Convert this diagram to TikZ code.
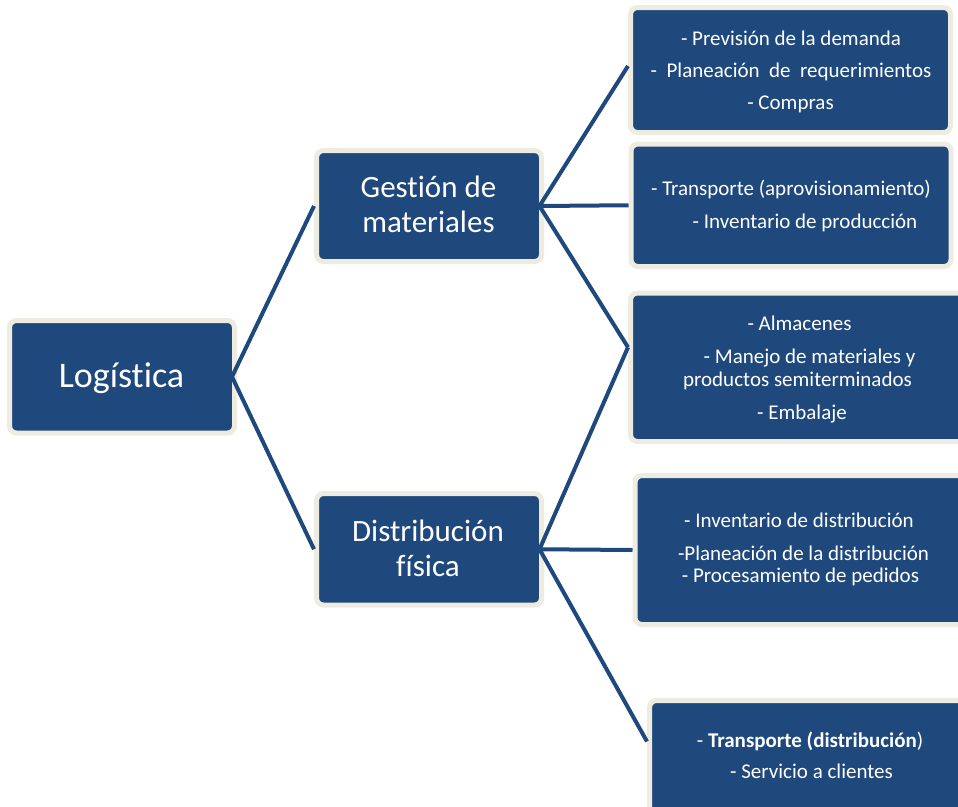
\documentclass[tikz,border=0pt]{standalone}
\usepackage{fontspec}
\setmainfont[Ligatures=NoCommon]{Carlito}
\definecolor{boxblue}{HTML}{1F497D}
\definecolor{boxcream}{HTML}{EEECE1}
\begin{document}
\begin{tikzpicture}[x=1pt,y=-1pt,
  box/.style={fill=boxblue, draw=boxcream, line width=5pt, rounded corners=7pt, inner sep=0pt, outer sep=0pt},
  leaf/.style={anchor=base, text=white, font=\fontsize{21}{25}\selectfont, inner sep=0pt},
  midlbl/.style={anchor=base, text=white, font=\fontsize{31}{37}\selectfont, inner sep=0pt},
  rootlbl/.style={anchor=base, text=white, font=\fontsize{36}{43}\selectfont, inner sep=0pt},
  link/.style={draw=boxblue, line width=4pt}]
\useasboundingbox (0,0) rectangle (958,806);
\clip (0,0) rectangle (958,806);
\fill[white] (0,0) rectangle (958,806);
% boxes
\node[box, minimum width=225pt, minimum height=112.5pt] (log) at (122,376.75) {};
\node[box, minimum width=225pt, minimum height=111pt] (gest) at (429,206) {};
\node[box, minimum width=225pt, minimum height=111.5pt] (dist) at (429,549.25) {};
\node[box, minimum width=320pt, minimum height=125pt] (b1) at (790.5,70) {};
\node[box, minimum width=320pt, minimum height=122.5pt] (b2) at (791,205.25) {};
\node[box, minimum width=336pt, minimum height=148.5pt] (b3) at (798.5,367.25) {};
\node[box, minimum width=332pt, minimum height=149pt] (b4) at (801,550) {};
\node[box, minimum width=330pt, minimum height=150pt] (b5) at (814.5,775.5) {};
% connector end points
\coordinate (ls) at ([xshift=-2.5pt]log.east);
\coordinate (gs) at ([xshift=-2pt]gest.east);
\coordinate (ds) at ([xshift=-2pt]dist.east);
\coordinate (t1) at ([xshift=-2.5pt,yshift=4pt]b1.west);
\coordinate (t3) at ([xshift=-2.5pt,yshift=20pt]b3.west);
\coordinate (t5) at ([xshift=-2.5pt,yshift=34pt]b5.west);
% connectors
\draw[link] (ls) -- ([xshift=-2.5pt]gest.west);
\draw[link] (ls) -- ([xshift=-2.5pt]dist.west);
\draw[link] (gs) -- (t1);
\draw[link] (gs) -- ([xshift=-2.5pt]b2.west);
\draw[link] (gs) -- (t3);
\draw[link] (ds) -- (t3);
\draw[link] (ds) -- ([xshift=-2.5pt]b4.west);
\draw[link] (ds) -- (t5);
% texts
\node[rootlbl] (logt) at (121.5,387) {Logística};
\node[midlbl] (gest1) at (428.5,197) {Gestión de};
\node[midlbl] (gest2) at (428.5,232) {materiales};
\node[midlbl] (dist1) at (428,541) {Distribución};
\node[midlbl] (dist2) at (428,576) {física};
\node[leaf] (b1a) at (791,45) {- Previsión de la demanda};
\node[leaf] (b1b) at (791,77) {-\ \ Planeación\ \ de\ \ requerimientos};
\node[leaf] (b1c) at (790.5,109) {- Compras};
\node[leaf] (b2a) at (791,195) {- Transporte (aprovisionamiento)};
\node[leaf] (b2b) at (805,228) {- Inventario de producción};
\node[leaf] (b3a) at (799.5,330) {- Almacenes};
\node[leaf] (b3b) at (809.5,363) {- Manejo de materiales y};
\node[leaf] (b3c) at (797.5,386) {productos semiterminados};
\node[leaf] (b3d) at (802,419) {- Embalaje};
\node[leaf] (b4a) at (799,527) {- Inventario de distribución};
\node[leaf] (b4b) at (803.5,560) {-Planeación de la distribución};
\node[leaf] (b4c) at (800.5,582) {- Procesamiento de pedidos};
\node[leaf] (b5a) at (810,747) {- \textbf{Transporte (distribución})};
\node[leaf] (b5b) at (811.5,778) {- Servicio a clientes};
\end{tikzpicture}
\end{document}
